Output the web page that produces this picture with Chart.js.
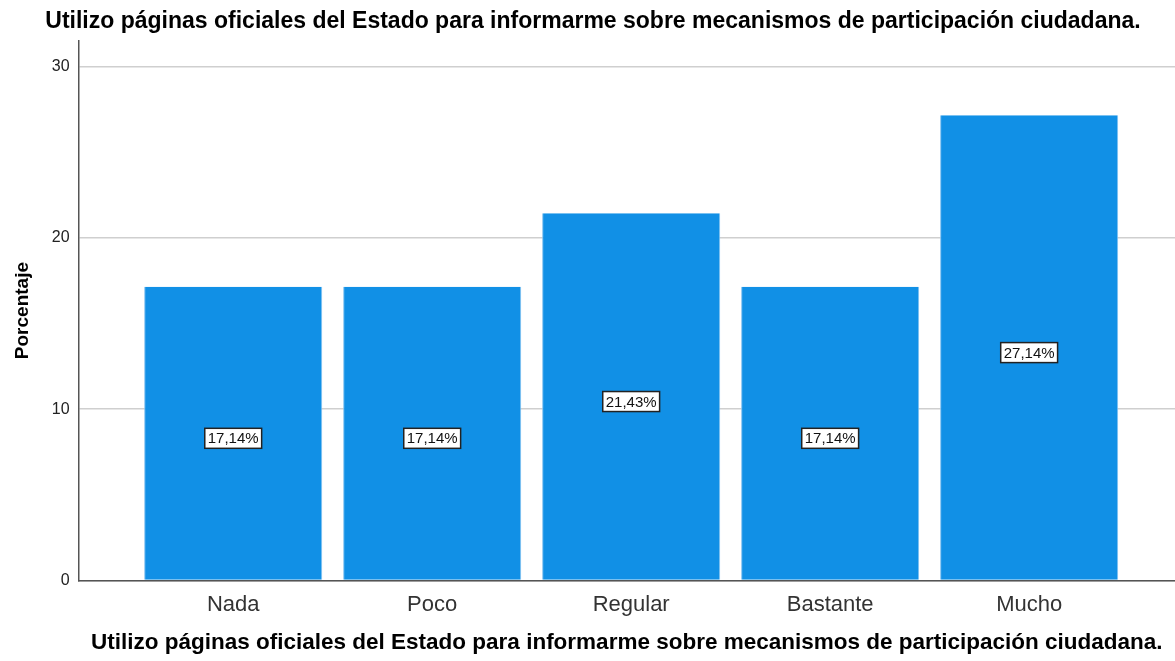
<!DOCTYPE html>
<html>
<head>
<meta charset="utf-8">
<script src="https://cdn.jsdelivr.net/npm/chart.js@4"></script>
<style>
  html, body { margin: 0; padding: 0; background: #fff; }
  #wrap { width: 1175px; height: 661px; }
</style>
</head>
<body>
<div id="wrap"><canvas id="myChart" width="1175" height="661"></canvas></div>
<script>
const categories = ['Nada', 'Poco', 'Regular', 'Bastante', 'Mucho'];
const percentages = [17.14, 17.14, 21.43, 17.14, 27.14];
const yTicks = [0, 10, 20, 30];
const titleText = 'Utilizo páginas oficiales del Estado para informarme sobre mecanismos de participación ciudadana.';
const fontFamily = '"Liberation Sans", Arial, sans-serif';

// white boxed value labels in the middle of each bar
const barLabels = {
    id: 'barLabels',
    afterDatasetsDraw(chart) {
        const ctx = chart.ctx;
        const meta = chart.getDatasetMeta(0);
        ctx.save();
        ctx.font = '15px ' + fontFamily;
        ctx.textAlign = 'center';
        ctx.textBaseline = 'middle';
        meta.data.forEach((bar, i) => {
            const txt = percentages[i].toFixed(2).replace('.', ',') + '%';
            const cx = bar.x;
            const cy = (bar.y + bar.base) / 2 + 5;
            const w = ctx.measureText(txt).width + 6;
            const h = 20;
            ctx.fillStyle = '#fff';
            ctx.fillRect(cx - w / 2, cy - h / 2, w, h);
            ctx.strokeStyle = '#222';
            ctx.lineWidth = 1.5;
            ctx.strokeRect(cx - w / 2, cy - h / 2, w, h);
            ctx.fillStyle = '#111';
            ctx.fillText(txt, cx, cy + 1);
        });
        ctx.restore();
    }
};

const ctx = document.getElementById('myChart').getContext('2d');
new Chart(ctx, {
    type: 'bar',
    data: {
        datasets: [{
            data: percentages.map((v, i) => ({ x: i + 1, y: v })),
            backgroundColor: '#1190e6',
            borderColor: '#7fc0f0',
            borderWidth: { left: 1, right: 1, top: 0, bottom: 0 },
            barPercentage: 0.895,
            categoryPercentage: 1
        }]
    },
    options: {
        responsive: false,
        animation: false,
        layout: { padding: { left: 11, right: 0, top: 0, bottom: 5 } },
        plugins: {
            legend: { display: false },
            tooltip: { enabled: false },
            title: {
                display: true,
                text: titleText,
                color: '#000',
                font: { family: fontFamily, size: 23, weight: 'bold' },
                padding: { top: 8, bottom: 5 }
            }
        },
        scales: {
            x: {
                type: 'linear',
                offset: false,
                min: 0.223,
                max: 5.733,
                grid: { display: false, drawTicks: false },
                border: { color: '#555', width: 1.5 },
                afterBuildTicks: (axis) => { axis.ticks = categories.map((c, i) => ({ value: i + 1 })); },
                ticks: {
                    padding: 11,
                    color: '#333',
                    font: { family: fontFamily, size: 22 },
                    callback: (v) => categories[v - 1] || ''
                },
                title: {
                    display: true,
                    text: titleText,
                    color: '#000',
                    font: { family: fontFamily, size: 22.5, weight: 'bold' },
                    padding: { top: 0, bottom: 0 }
                }
            },
            y: {
                min: 0,
                max: 31.5,
                afterBuildTicks: (axis) => { axis.ticks = yTicks.map(v => ({ value: v })); },
                grid: { color: '#cfcfcf', lineWidth: 1.5, drawTicks: false },
                border: { color: '#555', width: 1.5 },
                ticks: {
                    padding: 9,
                    color: '#222',
                    font: { family: fontFamily, size: 16 }
                },
                title: {
                    display: true,
                    text: 'Porcentaje',
                    color: '#000',
                    font: { family: fontFamily, size: 19, weight: 'bold' },
                    padding: { top: 0, bottom: 9 }
                }
            }
        }
    },
    plugins: [barLabels]
});
</script>
</body>
</html>
